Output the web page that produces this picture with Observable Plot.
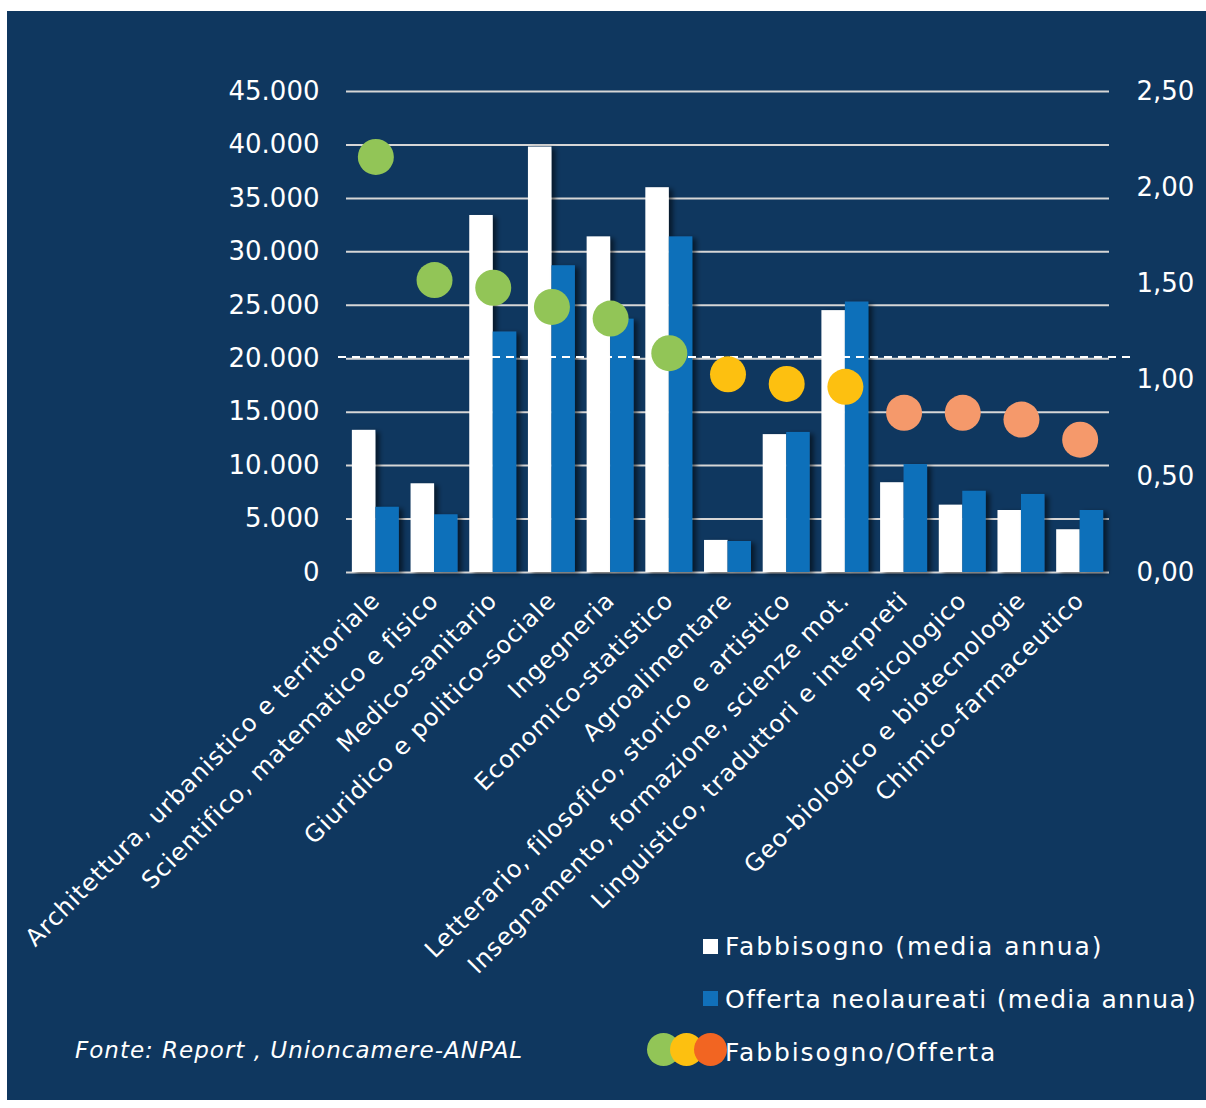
<!DOCTYPE html>
<html>
<head>
<meta charset="utf-8">
<script src="https://cdn.jsdelivr.net/npm/d3@7"></script>
<script src="https://cdn.jsdelivr.net/npm/@observablehq/plot@0.6"></script>
<style>
  html, body { margin: 0; padding: 0; background: #fff; }
  body { width: 1206px; height: 1108px; position: relative; overflow: hidden; font-family: "DejaVu Sans", sans-serif; }
  #panel { position: absolute; left: 7px; top: 11px; width: 1199px; height: 1089px; background: #0F375F; }
  #chart { position: absolute; left: 0; top: 0; }
  .lg { position: absolute; color: #fff; font-size: 25px; line-height: 25px; white-space: nowrap; letter-spacing: 1.9px; }
  .sw { position: absolute; width: 15px; height: 15px; }
  .cc { position: absolute; width: 33px; height: 33px; border-radius: 50%; }
  #fonte { position: absolute; left: 75px; top: 1039px; color: #fff; font-style: italic; font-size: 23px; line-height: 23px; white-space: nowrap; letter-spacing: 1px; }
</style>
</head>
<body>
<div id="panel"><div id="chart"></div></div>
<div class="sw" style="left:703px;top:939px;background:#ffffff"></div>
<div class="lg" style="left:725px;top:934px">Fabbisogno (media annua)</div>
<div class="sw" style="left:703px;top:991px;background:#1170BA"></div>
<div class="lg" style="left:725px;top:987px;letter-spacing:1.3px">Offerta neolaureati (media annua)</div>
<div class="cc" style="left:647px;top:1033px;background:#92C557"></div>
<div class="cc" style="left:670px;top:1033px;background:#FDC010"></div>
<div class="cc" style="left:694px;top:1033px;background:#F26522"></div>
<div class="lg" style="left:725px;top:1040px">Fabbisogno/Offerta</div>
<div id="fonte">Fonte: Report , Unioncamere-ANPAL</div>
<script>
const categorie = [
  "Architettura, urbanistico e territoriale",
  "Scientifico, matematico e fisico",
  "Medico-sanitario",
  "Giuridico e politico-sociale",
  "Ingegneria",
  "Economico-statistico",
  "Agroalimentare",
  "Letterario, filosofico, storico e artistico",
  "Insegnamento, formazione, scienze mot.",
  "Linguistico, traduttori e interpreti",
  "Psicologico",
  "Geo-biologico e biotecnologie",
  "Chimico-farmaceutico"
];
const fabbisogno = [13300, 8300, 33400, 39800, 31400, 36000, 3000, 12900, 24500, 8400, 6300, 5800, 4000];
const offerta = [6100, 5400, 22500, 28700, 23700, 31400, 2900, 13100, 25300, 10100, 7600, 7300, 5800];
const rapporto = [2.16, 1.52, 1.48, 1.38, 1.32, 1.14, 1.03, 0.98, 0.965, 0.83, 0.83, 0.795, 0.69];
const fascia = ["alta", "alta", "alta", "alta", "alta", "alta", "media", "media", "media", "bassa", "bassa", "bassa", "bassa"];
const soglia = 1.12;
const yTicks = [0, 5000, 10000, 15000, 20000, 25000, 30000, 35000, 40000, 45000];
const rapportoTicks = [0, 0.5, 1, 1.5, 2, 2.5];

const K = 45000 / 2.5; // left units per ratio unit
const rows = categorie.map((c, i) => ({cat: c, fab: fabbisogno[i], off: offerta[i], rap: rapporto[i], fascia: fascia[i]}));

function build(half) {
  return Plot.plot({
    width: 1199,
    height: 1089,
    marginLeft: 339,
    marginRight: 97,
    marginTop: 80,
    marginBottom: 528,
    style: {background: "transparent", color: "#fff", fontFamily: "DejaVu Sans, sans-serif"},
    x: {domain: categorie, paddingInner: 0.2, paddingOuter: 0.1, round: false, label: null},
    y: {domain: [0, 45000], label: null},
    color: {domain: ["alta", "media", "bassa"], range: ["#92C557", "#FDC010", "#F5996B"]},
    marks: [
      Plot.gridY(yTicks, {stroke: "#d6d6d6", strokeOpacity: 1, strokeWidth: 2}),
      Plot.barY(rows, {x: "cat", y: "fab", fill: "#ffffff", insetRight: half}),
      Plot.barY(rows, {x: "cat", y: "off", fill: "#1170BA", insetLeft: half}),
      Plot.ruleY([soglia * K], {stroke: "#ffffff", strokeWidth: 2, strokeDasharray: "8,6", insetLeft: -8, insetRight: -21}),
      Plot.dot(rows, {x: "cat", y: d => d.rap * K, r: 18, fill: "fascia", stroke: null}),
      Plot.axisY(yTicks, {anchor: "left", tickSize: 0, tickPadding: 27, fontSize: 26, fill: "#fff",
        tickFormat: d => d === 0 ? "0" : d3.format(",")(d).replace(/,/g, ".")}),
      Plot.axisY(rapportoTicks.map(t => t * K), {anchor: "right", tickSize: 0, tickPadding: 27, fontSize: 26, fill: "#fff",
        tickFormat: d => (d / K).toFixed(2).replace(".", ",")}),
      Plot.axisX({tickRotate: -45, tickSize: 0, tickPadding: 24, fontSize: 24, fill: "#fff"})
    ]
  });
}

let chart = build(0);
const bw = chart.scale("x").bandwidth;
chart = build(bw / 2);

const svg = d3.select(chart);
const f = svg.insert("defs", ":first-child").append("filter")
  .attr("id", "ombra").attr("x", "-20%").attr("y", "-5%").attr("width", "160%").attr("height", "110%");
f.append("feDropShadow").attr("dx", 4).attr("dy", 2).attr("stdDeviation", 2.5)
  .attr("flood-color", "#000").attr("flood-opacity", 0.55);
svg.selectAll('g[aria-label="bar"]').attr("filter", "url(#ombra)");
svg.selectAll('g[aria-label^="x-axis"] text').style("letter-spacing", "1px");

document.getElementById("chart").appendChild(chart);
</script>
</body>
</html>
